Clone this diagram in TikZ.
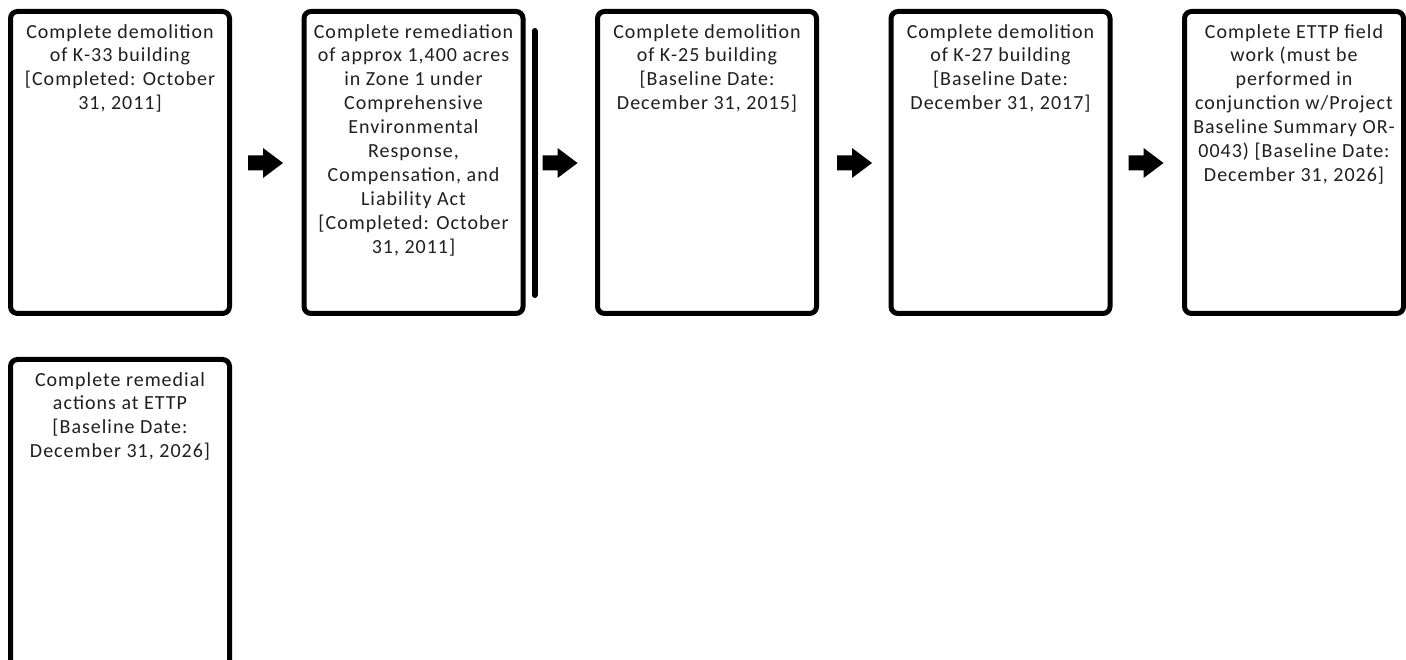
\documentclass[tikz,border=0pt]{standalone}
\usepackage{fontspec}
\setmainfont{Carlito}[LetterSpace=5]
\usetikzlibrary{calc}
\begin{document}
\begin{tikzpicture}[x=1pt,y=-1pt,
  box/.style={draw=black, line width=5pt, rounded corners=7pt, fill=white,
    minimum width=219pt, minimum height=302pt, inner sep=0pt},
  txt/.style={anchor=north, align=center, inner sep=0pt, text=black!88,
    font=\fontsize{20}{23.9}\selectfont},
  blockarrow/.pic={\fill[black] (0,-7.5) -- (15,-7.5) -- (15,-15) -- (35,0) -- (15,15) -- (15,7.5) -- (0,7.5) -- cycle;}
]
\useasboundingbox (0,0) rectangle (1406,660);
\clip (0,0) rectangle (1406,660);

\node[box] (b1) at (120,162.5) {};
\node[box] (b2) at (413.5,162.5) {};
\node[box] (b3) at (707,162.5) {};
\node[box] (b4) at (1000.5,162.5) {};
\node[box] (b5) at (1294,162.5) {};
\node[box, minimum height=310pt] (b6) at (120,514.5) {};

\node[txt] (t1) at ($(b1.north)+(0,15)$) {Complete demolition\\of K-33 building\\{[}Completed: October\\31, 2011]};
\node[txt] (t2) at ($(b2.north)+(0,15)$) {Complete remediation\\of approx 1,400 acres\\in Zone 1 under\\Comprehensive\\Environmental\\Response,\\Compensation, and\\Liability Act\\{[}Completed: October\\31, 2011]};
\node[txt] (t3) at ($(b3.north)+(0,15)$) {Complete demolition\\of K-25 building\\{[}Baseline Date:\\December 31, 2015]};
\node[txt] (t4) at ($(b4.north)+(0,15)$) {Complete demolition\\of K-27 building\\{[}Baseline Date:\\December 31, 2017]};
\node[txt] (t5) at ($(b5.north)+(0,15)$) {Complete ETTP field\\work (must be\\performed in\\conjunction w/Project\\Baseline Summary OR-\\0043) [Baseline Date:\\December 31, 2026]};
\node[txt] (t6) at ($(b6.north)+(0,15)$) {Complete remedial\\actions at ETTP\\{[}Baseline Date:\\December 31, 2026]};

\draw[line width=6pt, line cap=round] ($(b2.north east)+(9,22)$) coordinate (vtop) -- ($(b2.south east)+(9,-21)$) coordinate (vbot);

\pic at ($(b1.east)+(16,0.5)$) {blockarrow};
\pic at ($(b2.east)+(17,0.5)$) {blockarrow};
\pic at ($(b3.east)+(18,0.5)$) {blockarrow};
\pic at ($(b4.east)+(16,0.5)$) {blockarrow};
\end{tikzpicture}
\end{document}
